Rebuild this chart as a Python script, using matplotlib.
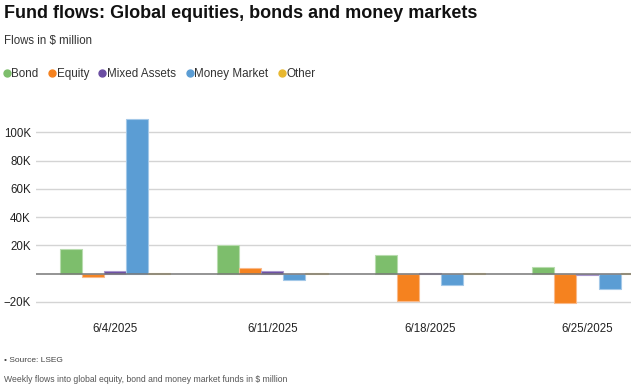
import numpy as np
import matplotlib.pyplot as plt
from matplotlib.lines import Line2D
from matplotlib.ticker import FuncFormatter

# values in $ million
dates = ['6/4/2025', '6/11/2025', '6/18/2025', '6/25/2025']
series = ['Bond', 'Equity', 'Mixed Assets', 'Money Market', 'Other']
bond = [17500, 20000, 13000, 4500]
equity = [-2300, 4000, -19500, -21000]
mixed = [1900, 1900, 200, -700]
money_market = [109500, -4400, -7800, -10600]
other = [300, 500, 400, 300]
y_ticks = [-20000, 20000, 40000, 60000, 80000, 100000]

colors = ['#7dbe6c', '#f5821f', '#6b4ea3', '#5b9dd4', '#e8b830']
edges = ['#b8dcae', '#f9b98a', '#a896cc', '#a3c8e8', '#f2d88a']

plt.rcParams['font.family'] = ['Liberation Sans', 'DejaVu Sans']

fig = plt.figure(figsize=(6.31, 3.89), dpi=100)
W, H = 631, 389
# axes box in pixels: left 36, right 631, top 110, bottom 315
ax = fig.add_axes([36 / W, 1 - 315 / H, (631 - 36) / W, (315 - 110) / H])

x = np.arange(len(dates))
width = 0.14
values = [bond, equity, mixed, money_market, other]
for i, (vals, c, e) in enumerate(zip(values, colors, edges)):
    ax.bar(x + (i - 2) * width, vals, width, color=c, edgecolor=e, linewidth=0.8, zorder=3)

ax.set_xlim(-0.5, 3.276)
ax.set_ylim(-29200, 115700)
ax.set_yticks(y_ticks)
ax.yaxis.set_major_formatter(FuncFormatter(lambda v, p: f'{int(v / 1000)}K'.replace('-', '\u2212')))
ax.set_xticks(x)
ax.set_xticklabels(dates)
ax.tick_params(axis='both', length=0, labelsize=8.3, colors='#222222')
ax.tick_params(axis='x', pad=5.5)
ax.tick_params(axis='y', pad=3.6)
ax.grid(axis='y', color='#d4d4d4', linewidth=1.0, zorder=0)
ax.axhline(0, color='#777777', linewidth=1.1, zorder=4)
for s in ax.spines.values():
    s.set_visible(False)

fig.text(4 / W, 1 - 14 / H, 'Fund flows: Global equities, bonds and money markets',
         fontsize=13, fontweight='bold', color='#111111', va='center', ha='left')
fig.text(4 / W, 1 - 41 / H, 'Flows in $ million', fontsize=8.3, color='#333333',
         va='center', ha='left')

handles = [Line2D([], [], marker='o', linestyle='none', markersize=5, color=c) for c in colors]
fig.legend(handles, series, loc='center left', bbox_to_anchor=(3 / W, 1 - 74 / H),
           ncol=5, frameon=False, fontsize=8.4, handletextpad=0.1, columnspacing=0.85,
           handlelength=0.6, borderaxespad=0, borderpad=0, labelcolor='#333333')

fig.text(4 / W, 1 - 361 / H, '• Source: LSEG', fontsize=6.0, color='#444444',
         va='center', ha='left')
fig.text(4 / W, 1 - 380 / H, 'Weekly flows into global equity, bond and money market funds in $ million',
         fontsize=6.25, color='#555555', va='center', ha='left')

fig.savefig('out.png', dpi=100)
